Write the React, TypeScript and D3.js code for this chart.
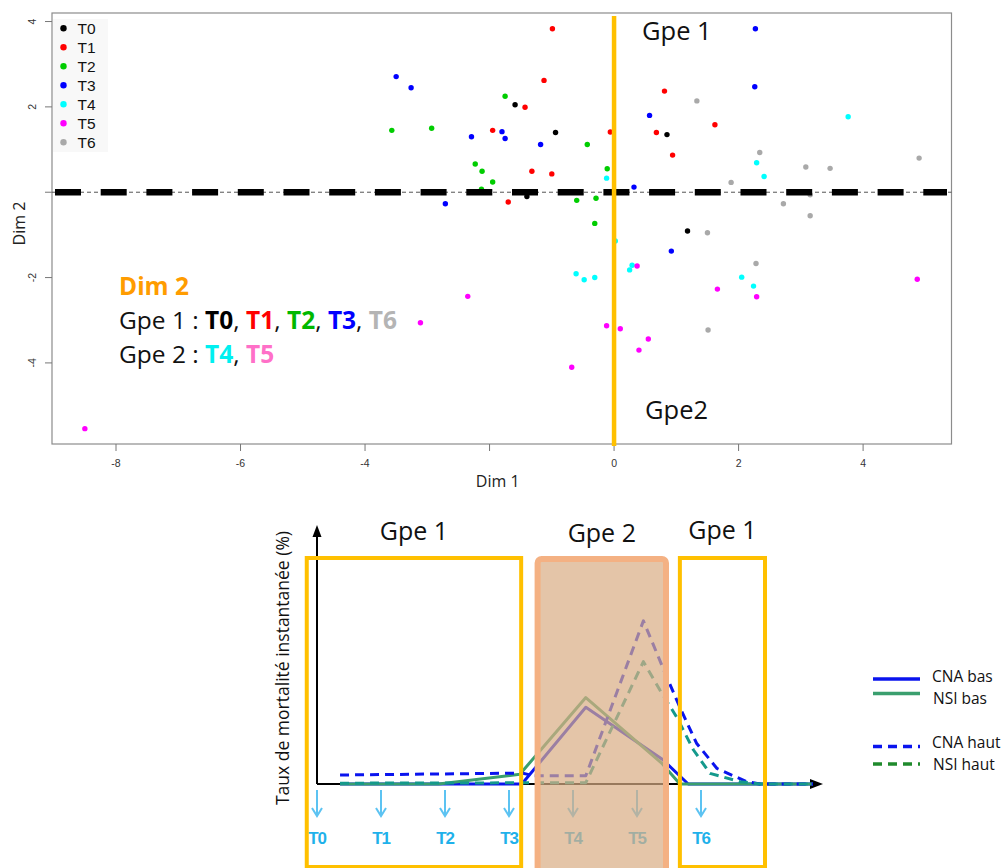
import React from 'react';
import * as d3 from 'd3';

// ---------- PCA scatter (Dim 1 / Dim 2) ----------
const groupNames = ['T0', 'T1', 'T2', 'T3', 'T4', 'T5', 'T6'];

const t0Points = [[-1.59, 2.05], [-0.94, 1.40], [0.85, 1.35], [-1.40, -0.10], [1.18, -0.91]];
const t1Points = [[-0.99, 3.83], [-1.125, 2.62], [-1.43, 1.99], [-1.95, 1.45], [-0.06, 1.41], [-1.32, 0.49],
  [-1.0, 0.43], [-1.70, -0.23], [0.81, 2.37], [1.62, 1.58], [0.68, 1.40], [0.94, 0.87]];
const t2Points = [[-1.75, 2.25], [-3.57, 1.45], [-2.93, 1.50], [-0.43, 1.12], [-2.23, 0.66], [-2.12, 0.49],
  [-1.95, 0.24], [-2.13, 0.07], [-0.11, 0.55], [-0.60, -0.19], [-0.29, -0.14], [-0.31, -0.73]];
const t3Points = [[-3.50, 2.71], [-3.26, 2.45], [-2.29, 1.30], [-1.80, 1.42], [-1.75, 1.26], [-1.18, 1.12],
  [-2.71, -0.27], [2.26, 2.47], [0.57, 1.80], [2.27, 3.83], [0.32, 0.12], [0.92, -1.38]];
const t4Points = [[-0.12, 0.33], [2.29, 0.69], [2.41, 0.37], [3.76, 1.77], [0.02, -1.14], [0.29, -1.71],
  [0.25, -1.82], [2.05, -1.99], [2.24, -2.20], [-0.61, -1.91], [-0.48, -2.05], [-0.31, -2.00]];
const t5Points = [[0.37, -1.73], [1.66, -2.27], [2.29, -2.45], [4.87, -2.04], [-0.12, -3.13], [0.10, -3.20],
  [0.55, -3.44], [0.40, -3.70], [-2.35, -2.44], [-3.11, -3.06], [-0.68, -4.10], [-8.50, -5.54]];
const t6Points = [[1.33, 2.14], [2.34, 0.93], [1.88, 0.23], [3.08, 0.59], [3.47, 0.56], [4.90, 0.80],
  [2.72, -0.27], [3.15, -0.06], [3.15, -0.55], [1.50, -0.95], [2.28, -1.67], [1.51, -3.23]];

const scatterGroups = [t0Points, t1Points, t2Points, t3Points, t4Points, t5Points, t6Points];
const groupColors = ['#000000', '#ff0000', '#00cd00', '#0000ff', '#00ffff', '#ff00ff', '#a9a9a9'];

const dim1Ticks = [-8, -6, -4, -2, 0, 2, 4];
const dim2Ticks = [-4, -2, 0, 2, 4];
const unlabeledDim1 = [-2];
const unlabeledDim2 = [0];

// Dim 2 grouping summary
const gpe1Members = ['T0', 'T1', 'T2', 'T3', 'T6'];
const gpe2Members = ['T4', 'T5'];
const memberTextColors: Record<string, string> = {
  T0: '#000000', T1: '#ff0000', T2: '#00b800', T3: '#0000ff', T6: '#b4b4b4', T4: '#00f0f0', T5: '#ff70c8',
};

// ---------- Instantaneous mortality sketch ----------
const timeLabels = ['T0', 'T1', 'T2', 'T3', 'T4', 'T5', 'T6'];
const cnaBas = [[0.36, 0], [3.2, 0], [4.2, 4.7], [5.4, 1.5], [5.8, 0], [7.75, 0]];
const nsiBas = [[0.36, 0], [1.9, 0], [3.17, 0.6], [4.2, 5.3], [5.38, 1.3], [5.67, 0], [7.75, 0]];
const cnaHaut = [[0.36, 0.55], [3.2, 0.67], [3.4, 0.5], [4.2, 0.5], [5.1, 10], [5.46, 6.6], [5.67, 4.7],
  [5.93, 2.5], [6.25, 0.95], [6.71, 0.15], [6.92, 0], [7.75, 0]];
const nsiHaut = [[0.36, 0.05], [4.2, 0.08], [5.1, 7.5], [5.36, 5.75], [5.62, 4.1], [5.88, 2.1], [6.14, 0.65],
  [6.61, 0.14], [6.92, 0], [7.75, 0]];

const mortalitySeries = [
  { name: 'CNA bas', values: cnaBas, color: '#0a14ee', legendColor: '#0a14ee', dashed: false },
  { name: 'NSI bas', values: nsiBas, color: '#3a9f6e', legendColor: '#3a9f6e', dashed: false },
  { name: 'CNA haut', values: cnaHaut, color: '#0a14ee', legendColor: '#0a14ee', dashed: true },
  { name: 'NSI haut', values: nsiHaut, color: '#14998c', legendColor: '#1f8a2c', dashed: true },
];

const sans = '"Open Sans", Lato, sans-serif';
const rFont = '"Liberation Sans", Arial, sans-serif';

export default function App() {
  // scatter scales
  const x = d3.scaleLinear().domain([-9.028, 5.42]).range([52, 951.5]);
  const y = d3.scaleLinear().domain([-5.9, 4.2]).range([444, 13]);
  const plotL = 52, plotR = 951.5, plotT = 13, plotB = 444;

  // mortality scales
  const t = d3.scaleLinear().domain([0, 7]).range([317, 765]);
  const v = d3.scaleLinear().domain([0, 16]).range([784, 523]);
  const line = d3.line<number[]>().x(d => t(d[0])).y(d => v(d[1]));
  const t0 = v(0);

  const gpe1Box = { x0: t(-0.16), x1: t(3.19) };
  const gpe2Box = { x0: t(3.4), x1: t(5.5) };
  const gpe1bBox = { x0: t(5.67), x1: t(7.0) };

  return (
    <svg width={1003} height={868} style={{ position: 'absolute', left: 0, top: 0, background: '#fff' }}>
      <rect x={0} y={0} width={1003} height={868} fill="#fff" />

      {/* ===== Scatter ===== */}
      <rect x={plotL} y={plotT} width={plotR - plotL} height={plotB - plotT} fill="none" stroke="#8c8c8c" strokeWidth={1.2} />
      {dim1Ticks.map(d => (
        <g key={'xt' + d}>
          <line x1={x(d)} x2={x(d)} y1={plotB} y2={plotB + 7} stroke="#777" />
          {!unlabeledDim1.includes(d) && (
            <text x={x(d)} y={plotB + 23} textAnchor="middle" fontSize={10.5} fontFamily={rFont} fill="#333">{d}</text>
          )}
        </g>
      ))}
      {dim2Ticks.map(d => (
        <g key={'yt' + d}>
          <line x1={plotL - 7} x2={plotL} y1={y(d)} y2={y(d)} stroke="#777" />
          {!unlabeledDim2.includes(d) && (
            <text transform={`translate(${plotL - 16},${y(d)}) rotate(-90)`} textAnchor="middle" fontSize={10.5}
              fontFamily={rFont} fill="#333">{d}</text>
          )}
        </g>
      ))}
      <text x={(plotL + plotR) / 2 - 4} y={487} textAnchor="middle" fontSize={16} fontFamily={sans} fill="#222">Dim 1</text>
      <text transform={`translate(25,${(plotT + plotB) / 2 - 5}) rotate(-90)`} textAnchor="middle" fontSize={16}
        fontFamily={sans} fill="#222">Dim 2</text>

      {/* legend */}
      <rect x={53} y={19} width={55} height={133} fill="#f8f8f8" />
      {groupNames.map((g, i) => (
        <g key={'lg' + g}>
          <circle cx={63.5} cy={28.3 + i * 19} r={3.2} fill={groupColors[i]} />
          <text x={77.5} y={28.3 + i * 19 + 5.5} fontSize={15.5} fontFamily={rFont} fill="#111">{g}</text>
        </g>
      ))}

      {/* points */}
      {scatterGroups.map((pts, gi) =>
        pts.map((p, pi) => (
          <circle key={`p${gi}-${pi}`} cx={x(p[0])} cy={y(p[1])} r={2.7} fill={groupColors[gi]} />
        ))
      )}

      {/* Dim 1 = 0 separation line */}
      <line x1={plotL} x2={plotR} y1={y(0)} y2={y(0)} stroke="#555" strokeWidth={1} strokeDasharray="4 3" />
      <line x1={55} x2={947} y1={y(0)} y2={y(0)} stroke="#000" strokeWidth={6.5} strokeDasharray="26 19.7" />
      <line x1={x(0)} x2={x(0)} y1={16} y2={plotB + 2} stroke="#ffc000" strokeWidth={4.5} />

      <text x={642} y={40} fontSize={25.5} fontFamily={sans} fill="#111">Gpe 1</text>
      <text x={645} y={419} fontSize={25.5} fontFamily={sans} fill="#111">Gpe2</text>

      <text x={119} y={295} fontSize={24.5} fontWeight="bold" fontFamily={sans} fill="#ff9c00">Dim 2</text>
      <text x={119} y={329} fontSize={24.5} fontFamily={sans} fill="#111">
        <tspan>Gpe 1 : </tspan>
        {gpe1Members.map((m, i) => (
          <React.Fragment key={'g1' + m}>
            <tspan fontWeight="bold" fill={memberTextColors[m]}>{m}</tspan>
            {i < gpe1Members.length - 1 && <tspan>, </tspan>}
          </React.Fragment>
        ))}
      </text>
      <text x={119} y={363} fontSize={24.5} fontFamily={sans} fill="#111">
        <tspan>Gpe 2 : </tspan>
        {gpe2Members.map((m, i) => (
          <React.Fragment key={'g2' + m}>
            <tspan fontWeight="bold" fill={memberTextColors[m]}>{m}</tspan>
            {i < gpe2Members.length - 1 && <tspan>, </tspan>}
          </React.Fragment>
        ))}
      </text>

      {/* ===== Mortality sketch ===== */}
      <text transform={`translate(289,668) rotate(-90)`} textAnchor="middle" fontSize={17.5} fontFamily={sans}
        fill="#111">Taux de mortalité instantanée (%)</text>

      {/* axes */}
      <line x1={t(0)} x2={t(0)} y1={t0} y2={533} stroke="#000" strokeWidth={2} />
      <path d={`M${t(0)},525 L${t(0) - 4.5},537 L${t(0) + 4.5},537 Z`} fill="#000" />
      <line x1={t(0)} x2={814} y1={t0} y2={t0} stroke="#000" strokeWidth={2} />
      <path d={`M823,${t0} L810,${t0 - 5} L810,${t0 + 5} Z`} fill="#000" />

      {/* time arrows + labels */}
      {timeLabels.map((lab, i) => (
        <g key={'ta' + lab}>
          <path d={`M${t(i)},790 V816 M${t(i) - 5},808 L${t(i)},816 L${t(i) + 5},808`} fill="none"
            stroke="#5cc3f2" strokeWidth={2} />
          <text x={t(i)} y={844} textAnchor="middle" fontSize={17} fontWeight="bold" letterSpacing={-1.2}
            fontFamily={'"Liberation Sans Narrow", "Liberation Sans", Arial, sans-serif'} fill="#1fb1ea">{lab}</text>
        </g>
      ))}

      {/* curves */}
      {mortalitySeries.map(s => (
        <path key={'s' + s.name} d={line(s.values as any) || ''} fill="none" stroke={s.color} strokeWidth={3}
          strokeDasharray={s.dashed ? '9 6' : undefined} strokeLinejoin="round" />
      ))}

      {/* group boxes */}
      <rect x={gpe2Box.x0 + 3} y={559} width={gpe2Box.x1 - gpe2Box.x0 - 6} height={330} rx={4}
        fill="#d8ac83" fillOpacity={0.7} stroke="#f4b183" strokeWidth={6} />
      <rect x={gpe1Box.x0} y={558} width={gpe1Box.x1 - gpe1Box.x0} height={309} fill="none" stroke="#ffc000" strokeWidth={4} />
      <rect x={gpe1bBox.x0} y={558} width={gpe1bBox.x1 - gpe1bBox.x0} height={309} fill="none" stroke="#ffc000" strokeWidth={4} />

      <text x={(gpe1Box.x0 + gpe1Box.x1) / 2} y={540} textAnchor="middle" fontSize={25} fontFamily={sans} fill="#111">Gpe 1</text>
      <text x={(gpe2Box.x0 + gpe2Box.x1) / 2} y={542} textAnchor="middle" fontSize={25} fontFamily={sans} fill="#111">Gpe 2</text>
      <text x={(gpe1bBox.x0 + gpe1bBox.x1) / 2} y={539} textAnchor="middle" fontSize={25} fontFamily={sans} fill="#111">Gpe 1</text>

      {/* legend */}
      {mortalitySeries.map((s, i) => {
        const ly = [679, 693.5, 746.5, 764][i];
        const ty = [682, 704, 747.5, 769.5][i];
        return (
          <g key={'ml' + s.name}>
            <line x1={873} x2={920} y1={ly} y2={ly} stroke={s.legendColor} strokeWidth={3.5}
              strokeDasharray={s.dashed ? '9 6' : undefined} />
            <text x={i % 2 === 0 ? 932 : 933} y={ty} fontSize={15.5} fontFamily={sans} fill="#111">{s.name}</text>
          </g>
        );
      })}
    </svg>
  );
}
